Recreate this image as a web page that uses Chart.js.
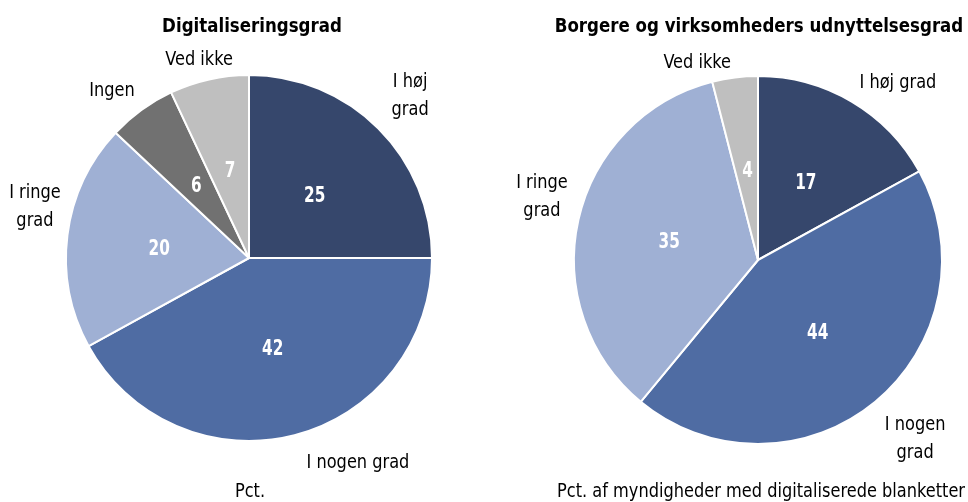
<!DOCTYPE html>
<html>
<head>
<meta charset="utf-8">
<script src="https://cdn.jsdelivr.net/npm/chart.js@4.4.0/dist/chart.umd.min.js"></script>
<style>
  body { margin: 0; background: #fff; }
  #wrap { position: relative; width: 968px; height: 502px; }
  canvas { position: absolute; top: 0; }
  #leftChart { left: 0; }
  #rightChart { left: 484px; }
</style>
</head>
<body>
<div id="wrap">
  <canvas id="leftChart" width="484" height="502"></canvas>
  <canvas id="rightChart" width="484" height="502"></canvas>
</div>
<script>
// Digitaliseringsgrad
const leftLabels = [["I høj", "grad"], "I nogen grad", ["I ringe", "grad"], "Ingen", "Ved ikke"];
const leftValues = [25, 42, 20, 6, 7];

// Borgere og virksomheders udnyttelsesgrad
const rightLabels = ["I høj grad", ["I nogen", "grad"], ["I ringe", "grad"], "Ved ikke"];
const rightValues = [17, 44, 35, 4];

const NAVY = "#36476c";
const MID = "#4f6ca3";
const LIGHT = "#9fb0d4";
const DGREY = "#717171";
const LGREY = "#bfbfbf";

const FONT = "'DejaVu Sans Condensed', 'DejaVu Sans', sans-serif";

// tekst lidt strakt i højden, som i originalen
function tallText(ctx, text, x, y, sy) {
    ctx.save();
    ctx.translate(x, y);
    ctx.scale(1, sy);
    ctx.fillText(text, 0, 0);
    ctx.restore();
}

// tegner værdier i stykkerne og kategorinavne udenfor
const pieLabels = {
    id: "pieLabels",
    afterDatasetsDraw(chart, args, opts) {
        const ctx = chart.ctx;
        const meta = chart.getDatasetMeta(0);
        const ds = chart.data.datasets[0];
        ctx.save();
        ctx.textAlign = "center";
        ctx.textBaseline = "middle";

        meta.data.forEach((arc, i) => {
            const c = arc.getCenterPoint();
            ctx.font = "bold 17px " + FONT;
            ctx.fillStyle = "#ffffff";
            tallText(ctx, String(ds.data[i]), c.x + 1, c.y + 3, 1.22);

            const pos = opts.outside[i];
            const a = pos[0] * Math.PI / 180;
            const r = arc.outerRadius * pos[1];
            const x = arc.x + Math.sin(a) * r;
            const y = arc.y - Math.cos(a) * r + 2;
            let lines = chart.data.labels[i];
            if (!Array.isArray(lines)) lines = [lines];
            ctx.font = "18px " + FONT;
            ctx.fillStyle = "#000000";
            lines.forEach((t, k) => {
                tallText(ctx, t, x, y + (k - (lines.length - 1) / 2) * 28, 1.1);
            });
        });

        const cx = meta.data[0].x;
        ctx.fillStyle = "#000000";
        ctx.font = "bold 18.5px " + FONT;
        tallText(ctx, opts.title, cx + opts.titleDx, 27, 1.05);
        ctx.font = "18px " + FONT;
        tallText(ctx, opts.note, cx + opts.noteDx, 492, 1.1);
        ctx.restore();
    }
};

function makePie(id, labels, values, colors, padding, labelOpts) {
    new Chart(document.getElementById(id), {
        type: "pie",
        data: {
            labels: labels,
            datasets: [{
                data: values,
                backgroundColor: colors,
                borderColor: "#ffffff",
                borderWidth: 2
            }]
        },
        options: {
            responsive: false,
            animation: false,
            layout: { padding: padding },
            plugins: {
                legend: { display: false },
                tooltip: { enabled: false },
                pieLabels: labelOpts
            }
        },
        plugins: [pieLabels]
    });
}

makePie("leftChart", leftLabels, leftValues,
    [NAVY, MID, LIGHT, DGREY, LGREY],
    { left: 65, right: 51, top: 74, bottom: 60 },
    {
        title: "Digitaliseringsgrad", titleDx: 3,
        note: "Pct.", noteDx: 1,
        outside: [[44.5, 1.256], [151.8, 1.26], [283.9, 1.205], [321, 1.19], [346, 1.127]]
    });

makePie("rightChart", rightLabels, rightValues,
    [NAVY, MID, LIGHT, LGREY],
    { left: 88, right: 24, top: 75, bottom: 57 },
    {
        title: "Borgere og virksomheders udnyttelsesgrad", titleDx: 1,
        note: "Pct. af myndigheder med digitaliserede blanketter", noteDx: 3,
        outside: [[38, 1.235], [138.4, 1.286], [286.7, 1.226], [343, 1.13]]
    });
</script>
</body>
</html>
